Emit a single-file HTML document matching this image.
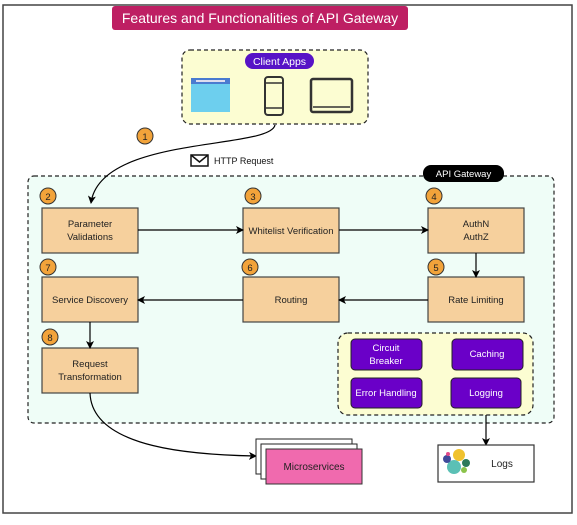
<!DOCTYPE html>
<html><head><meta charset="utf-8"><style>
body{margin:0;background:#fff;}
svg text{font-family:"Liberation Sans",sans-serif;}
</style></head><body>
<svg width="577" height="520" viewBox="0 0 577 520" xmlns="http://www.w3.org/2000/svg">
<defs>
<marker id="a" markerWidth="8" markerHeight="8" refX="7" refY="4" orient="auto" markerUnits="userSpaceOnUse"><path d="M0,0 L8,4 L0,8 L2,4z" fill="#000"/></marker>
</defs>
<rect x="3" y="5" width="569" height="508" fill="#fff" stroke="#444" stroke-width="1.5"/>
<rect x="112" y="6" width="296" height="24" rx="3" fill="#be1f63"/>
<text x="260" y="23" font-size="14" fill="#fff" text-anchor="middle">Features and Functionalities of API Gateway</text>

<rect x="182" y="50" width="186" height="74" rx="8" fill="#fcfdd2" stroke="#222" stroke-dasharray="4,3" stroke-width="1.2"/>
<rect x="245" y="53" width="69" height="16" rx="8" fill="#5713c6"/>
<text x="279.5" y="65" font-size="10.5" fill="#fff" text-anchor="middle">Client Apps</text>
<rect x="191" y="78" width="39" height="34" fill="#6dcfee"/>
<rect x="191" y="78" width="39" height="6" fill="#4a7bd0"/>
<rect x="196" y="80" width="29" height="2" fill="#dde"/>
<rect x="265" y="77" width="18" height="38" rx="3" fill="none" stroke="#333" stroke-width="2"/>
<line x1="265" y1="83" x2="283" y2="83" stroke="#333" stroke-width="1.5"/>
<line x1="265" y1="108" x2="283" y2="108" stroke="#333" stroke-width="1.5"/>
<rect x="311" y="79" width="41" height="33" rx="2" fill="none" stroke="#333" stroke-width="2.5"/>
<line x1="313" y1="107" x2="350" y2="107" stroke="#333" stroke-width="1.5"/>

<rect x="191" y="155" width="17" height="11" fill="#fff" stroke="#111" stroke-width="1.5"/>
<path d="M191,155 L199.5,162 L208,155" fill="none" stroke="#111" stroke-width="1.5"/>
<text x="214" y="164" font-size="9" fill="#111">HTTP Request</text>

<rect x="28" y="176" width="526" height="247" rx="6" fill="#effdf7" stroke="#222" stroke-dasharray="4,3" stroke-width="1.2"/>
<rect x="423" y="165" width="81" height="17" rx="8" fill="#000"/>
<text x="463.5" y="177" font-size="9.5" fill="#fff" text-anchor="middle">API Gateway</text>
<path d="M275,125 C270,150 100,135 91,203" fill="none" stroke="#000" stroke-width="1.2" marker-end="url(#a)"/>

<g stroke="#444" stroke-width="1.2" fill="#f6d09d">
<rect x="42" y="208" width="96" height="45"/>
<rect x="243" y="208" width="96" height="45"/>
<rect x="428" y="208" width="96" height="45"/>
<rect x="428" y="277" width="96" height="45"/>
<rect x="243" y="277" width="96" height="45"/>
<rect x="42" y="277" width="96" height="45"/>
<rect x="42" y="348" width="96" height="45"/>
</g>
<g font-size="9.5" fill="#222" text-anchor="middle">
<text x="90" y="227">Parameter</text><text x="90" y="240">Validations</text>
<text x="291" y="234">Whitelist Verification</text>
<text x="476" y="227">AuthN</text><text x="476" y="240">AuthZ</text>
<text x="476" y="303">Rate Limiting</text>
<text x="291" y="303">Routing</text>
<text x="90" y="303">Service Discovery</text>
<text x="90" y="367">Request</text><text x="90" y="380">Transformation</text>
</g>
<g stroke="#000" stroke-width="1.2" fill="none" marker-end="url(#a)">
<line x1="138" y1="230" x2="243" y2="230"/>
<line x1="339" y1="230" x2="428" y2="230"/>
<line x1="476" y1="253" x2="476" y2="277"/>
<line x1="428" y1="300" x2="339" y2="300"/>
<line x1="243" y1="300" x2="138" y2="300"/>
<line x1="90" y1="322" x2="90" y2="348"/>
<path d="M90,393 C92,450 200,455 256,456"/>
<line x1="486" y1="408" x2="486" y2="445"/>
</g>
<g fill="#f2a33a" stroke="#333" stroke-width="1">
<circle cx="145" cy="136" r="8"/><circle cx="48" cy="196" r="8"/><circle cx="253" cy="196" r="8"/>
<circle cx="434" cy="196" r="8"/><circle cx="436" cy="267" r="8"/><circle cx="250" cy="267" r="8"/>
<circle cx="48" cy="267" r="8"/><circle cx="50" cy="337" r="8"/>
</g>
<g font-size="9.5" fill="#222" text-anchor="middle">
<text x="145" y="140">1</text><text x="48" y="200">2</text><text x="253" y="200">3</text>
<text x="434" y="200">4</text><text x="436" y="271">5</text><text x="250" y="271">6</text>
<text x="48" y="271">7</text><text x="50" y="341">8</text>
</g>

<rect x="338" y="333" width="195" height="82" rx="10" fill="#fcfdd2" stroke="#222" stroke-dasharray="4,3" stroke-width="1.2"/>
<g fill="#6a00c8" stroke="#222" stroke-width="1">
<rect x="351" y="339" width="71" height="31" rx="4"/>
<rect x="452" y="339" width="71" height="31" rx="4"/>
<rect x="351" y="378" width="71" height="30" rx="4"/>
<rect x="451" y="378" width="70" height="30" rx="4"/>
</g>
<g font-size="9.5" fill="#fff" text-anchor="middle">
<text x="386" y="351">Circuit</text><text x="386" y="364">Breaker</text>
<text x="487" y="357">Caching</text>
<text x="386" y="396">Error Handling</text>
<text x="486" y="396">Logging</text>
</g>

<rect x="438" y="445" width="96" height="37" fill="#fff" stroke="#333" stroke-width="1.2"/>
<circle cx="459" cy="455" r="6" fill="#f0c22e"/>
<circle cx="454" cy="467" r="7" fill="#5bc0b5"/>
<circle cx="447" cy="459" r="4" fill="#3f4a9a"/>
<circle cx="466" cy="463" r="4" fill="#2c7a5a"/>
<circle cx="464" cy="470" r="3" fill="#8bc34a"/>
<circle cx="448" cy="454" r="2" fill="#e24a8a"/>
<text x="502" y="467" font-size="10" fill="#222" text-anchor="middle">Logs</text>

<rect x="256" y="439" width="96" height="35" fill="#fff" stroke="#222"/>
<rect x="261" y="444" width="96" height="35" fill="#fff" stroke="#222"/>
<rect x="266" y="449" width="96" height="35" fill="#f06aae" stroke="#333"/>
<text x="314" y="470" font-size="10" fill="#222" text-anchor="middle">Microservices</text>
</svg>
</body></html>
